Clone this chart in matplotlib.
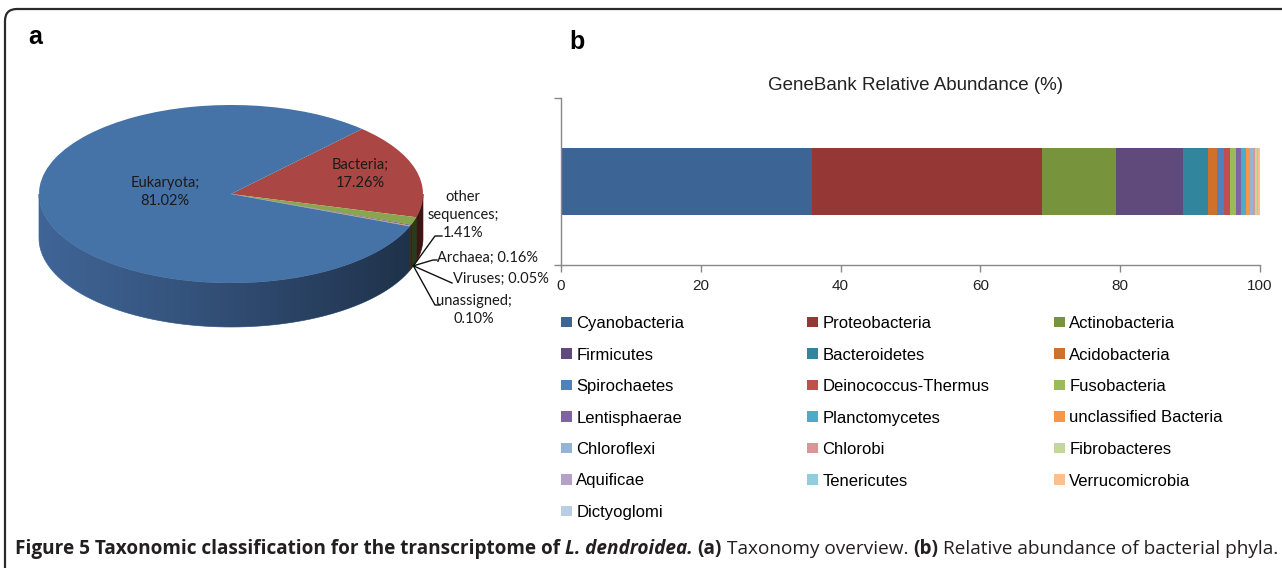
import numpy as np
import matplotlib
matplotlib.use("Agg")
import matplotlib.pyplot as plt
from matplotlib.patches import Polygon, FancyBboxPatch, PathPatch
from matplotlib.path import Path
from matplotlib.transforms import IdentityTransform

W, H = 1282, 568

# ---- panel a: taxonomy overview (clockwise from Bacteria)
pie_names = ["Bacteria", "other sequences", "Archaea", "Viruses", "unassigned", "Eukaryota"]
pie_values = [17.26, 1.41, 0.16, 0.05, 0.10, 81.02]
pie_colors = ["#AA4643", "#89A54E", "#71588F", "#4198AF", "#DB843D", "#4572A7"]
pie_side_colors = ["#7E302E", "#62773A", "#524068", "#2F6E80", "#A0602C", "#41679A"]

# ---- panel b: relative abundance of bacterial phyla
phyla = ["Cyanobacteria", "Proteobacteria", "Actinobacteria", "Firmicutes",
         "Bacteroidetes", "Acidobacteria", "Spirochaetes", "Deinococcus-Thermus",
         "Fusobacteria", "Lentisphaerae", "Planctomycetes", "unclassified Bacteria",
         "Chloroflexi", "Chlorobi", "Fibrobacteres", "Aquificae", "Tenericutes",
         "Verrucomicrobia", "Dictyoglomi"]
abundance = [35.9, 32.9, 10.6, 9.6, 3.6, 1.3, 1.0, 0.75, 0.85, 0.75, 0.75, 0.55,
             0.45, 0.3, 0.2, 0.12, 0.12, 0.1, 0.16]
phyla_colors = ["#3C6494", "#953735", "#77933C", "#604A7B", "#31859C", "#D0712B",
                "#4F81BD", "#C0504D", "#9BBB59", "#8064A2", "#4BACC6", "#F79646",
                "#95B3D7", "#D99694", "#C3D69B", "#B3A2C7", "#93CDDD", "#FAC090",
                "#B9CDE5"]
xticks = [0, 20, 40, 60, 80, 100]

fig = plt.figure(figsize=(W / 100, H / 100), dpi=100)

# rounded frame around the whole figure
frame = FancyBboxPatch((5, -30), 1320, 589, boxstyle="round,pad=0,rounding_size=12",
                       transform=IdentityTransform(), facecolor="none", edgecolor="#2b2b2b",
                       linewidth=1.6)
fig.patches.append(frame)

fig.text(35 / W, 1 - 37 / H, "a", fontsize=18, fontweight="bold", family="Liberation Sans",
         ha="center", va="center")
fig.text(577 / W, 1 - 42 / H, "b", fontsize=18, fontweight="bold", family="Liberation Sans",
         ha="center", va="center")

# ---- pseudo 3-D pie
cx, cy, rx, ry, depth = 231, 194, 192, 89, 44
pl, pr, pt, pb = 10, 550, 60, 360
ax1 = fig.add_axes([pl / W, 1 - pb / H, (pr - pl) / W, (pb - pt) / H])
d = depth / ry


def px(x, y):
    return (x - cx) / rx, (cy - y) / ry


start = 47.0
bounds = start - 360 * np.concatenate([[0], np.cumsum(pie_values)]) / 100.0
for i, col in enumerate(pie_side_colors):
    lo, hi = max(bounds[i + 1], -180), min(bounds[i], 0)
    if lo >= hi:
        continue
    t = np.radians(np.linspace(lo, hi, 80))
    top = np.column_stack([np.cos(t), np.sin(t)])
    bot = np.column_stack([np.cos(t), np.sin(t) - d])
    ax1.add_patch(Polygon(np.vstack([top, bot[::-1]]), closed=True, facecolor=col,
                          edgecolor=col, linewidth=0.5, zorder=1))

t = np.radians(np.linspace(-180, 0, 200))
band = np.vstack([np.column_stack([np.cos(t), np.sin(t)]),
                  np.column_stack([np.cos(t), np.sin(t) - d])[::-1]])
clip = PathPatch(Path(band), facecolor="none", edgecolor="none")
ax1.add_patch(clip)
grad = np.zeros((1, 256, 4))
grad[..., 3] = np.linspace(0.05, 0.6, 256) ** 1.2
im = ax1.imshow(grad, extent=(-1, 1, -1 - d, 0), aspect="auto", zorder=2,
                interpolation="bilinear")
im.set_clip_path(clip)

wedges, _ = ax1.pie(pie_values, colors=pie_colors, startangle=start, counterclock=False,
                    radius=1)
for w in wedges:
    w.set_zorder(3)
ax1.set_aspect("auto")
ax1.set_xlim(px(pl, 0)[0], px(pr, 0)[0])
ax1.set_ylim(px(0, pb)[1], px(0, pt)[1])
ax1.axis("off")

lab_font = dict(family="Lato", fontsize=10.5, color="#1a1a1a", linespacing=1.35)
ax1.text(*px(165, 192), f"{pie_names[5]};\n{pie_values[5]:.2f}%", ha="center", va="center",
         zorder=5, **lab_font)
ax1.text(*px(360, 174), f"{pie_names[0]};\n{pie_values[0]:.2f}%", ha="center", va="center",
         zorder=5, **lab_font)
ax1.text(*px(463, 215), "other\nsequences;\n" + f"{pie_values[1]:.2f}%", ha="center",
         va="center", zorder=5, **lab_font)
ax1.text(*px(437, 258), f"{pie_names[2]}; {pie_values[2]:.2f}%", ha="left", va="center",
         zorder=5, **lab_font)
ax1.text(*px(453, 279), f"{pie_names[3]}; {pie_values[3]:.2f}%", ha="left", va="center",
         zorder=5, **lab_font)
ax1.text(*px(474, 310), f"{pie_names[4]};\n{pie_values[4]:.2f}%", ha="center", va="center",
         zorder=5, **lab_font)

# leader lines from the rim under the small slices
mid = np.radians((bounds[1] + bounds[5]) / 2)
anchor = (np.cos(mid), np.sin(mid) - d)
for pts in ([(435, 236), (442, 236)], [(433, 260), (437, 260)], [(452, 283)],
            [(435, 305), (440, 305)]):
    xs = [anchor[0]] + [px(*p)[0] for p in pts]
    ys = [anchor[1]] + [px(*p)[1] for p in pts]
    ax1.plot(xs, ys, color="#111111", linewidth=1.0, zorder=6, clip_on=False)

# ---- stacked bar
ax2 = fig.add_axes([561 / W, 1 - 265 / H, 699 / W, 167 / H])
handles = []
left = 0.0
for name, val, col in zip(phyla, abundance, phyla_colors):
    bars = ax2.barh(0, val, left=left, height=0.4, color=col, label=name)
    handles.append(bars)
    left += val
ax2.set_xlim(0, 100)
ax2.set_ylim(-0.5, 0.5)
ax2.set_xticks(xticks)
ax2.set_xticklabels([str(v) for v in xticks], fontsize=11, family="Liberation Sans",
                    color="#222222")
ax2.set_yticks([-0.5, 0.5])
ax2.set_yticklabels([])
for s in ("top", "right"):
    ax2.spines[s].set_visible(False)
for s in ("left", "bottom"):
    ax2.spines[s].set_color("#888888")
    ax2.spines[s].set_linewidth(1.0)
ax2.tick_params(length=5, color="#888888", width=1.0, pad=5)

fig.text(915 / W, 1 - 86 / H, "GeneBank Relative Abundance (%)", fontsize=13.5,
         family="Liberation Sans", color="#222222", ha="center", va="center")

# legend: three columns, filled row by row
col_x = [561, 807, 1054]
for c in range(3):
    idx = list(range(c, len(phyla), 3))
    fig.legend([handles[i] for i in idx], [phyla[i] for i in idx], loc="upper left",
               bbox_to_anchor=(col_x[c] / W, 1 - 316 / H), frameon=False, borderpad=0,
               borderaxespad=0, handlelength=0.66, handleheight=0.6, handletextpad=0.25,
               labelspacing=0.99, prop=dict(family="Liberation Sans", size=12))

# ---- caption
renderer = fig.canvas.get_renderer()
pieces = [("Figure 5 Taxonomic classification for the transcriptome of", "bold", "normal", True),
          ("L. dendroidea.", "bold", "italic", True),
          ("(a)", "bold", "normal", True),
          ("Taxonomy overview.", "normal", "normal", True),
          ("(b)", "bold", "normal", True),
          ("Relative abundance of bacterial phyla.", "normal", "normal", False)]


def draw_caption(size):
    arts, x = [], 15.0
    sp = fig.text(0, 0, "a a", fontsize=size, family="Open Sans")
    sp2 = fig.text(0, 0, "aa", fontsize=size, family="Open Sans")
    space = (sp.get_window_extent(renderer).width - sp2.get_window_extent(renderer).width)
    sp.remove()
    sp2.remove()
    for txt, wt, st, gap in pieces:
        a = fig.text(x / W, 1 - 554 / H, txt, fontsize=size, family="Open Sans", fontweight=wt,
                     style=st, color="#231f20", ha="left", va="baseline")
        x += a.get_window_extent(renderer).width + (space if gap else 0)
        arts.append(a)
    return arts, x - 15


arts, total = draw_caption(12)
for a in arts:
    a.remove()
arts, total = draw_caption(12 * 1263 / total)

fig.savefig("out.png", dpi=100)
